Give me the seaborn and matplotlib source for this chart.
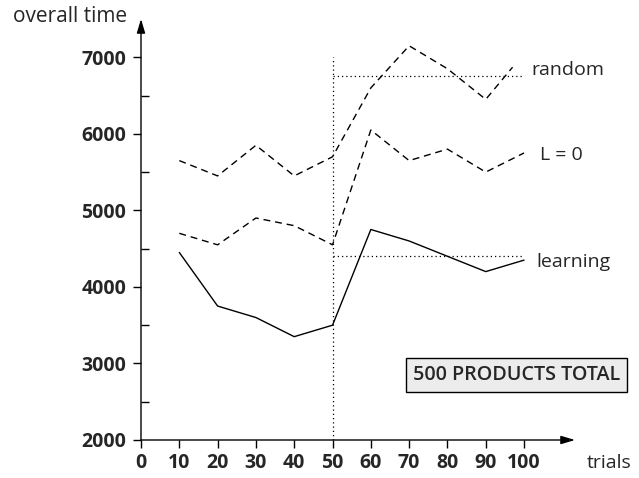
import matplotlib
matplotlib.use("Agg")
import matplotlib.pyplot as plt
import seaborn as sns
import numpy as np

# ---- data ----
trials = [10, 20, 30, 40, 50, 60, 70, 80, 90, 100]
learning = [4450, 3750, 3600, 3350, 3500, 4750, 4600, 4400, 4200, 4350]
l_zero = [4700, 4550, 4900, 4800, 4550, 6050, 5650, 5800, 5500, 5750]
random_trials = [10, 20, 30, 40, 50, 60, 70, 80, 90, 97]
random_vals = [5650, 5450, 5850, 5450, 5700, 6600, 7150, 6850, 6450, 6870]

learning_ref = 4400
random_ref = 6750
split_trial = 50
split_top = 7000
ref_end = 100

xticks = [0, 10, 20, 30, 40, 50, 60, 70, 80, 90, 100]
yticks = [2000, 3000, 4000, 5000, 6000, 7000]
yminor = [2500, 3500, 4500, 5500, 6500]

sns.set_style("white")
plt.rcParams['font.family'] = ['Open Sans', 'DejaVu Sans']

fig = plt.figure(figsize=(6.39, 4.78), dpi=100)
ax = fig.add_axes([141/639, 1 - 440/478, (575 - 141)/639, (440 - 19)/478])
ax.set_xlim(0, 113.3)
ax.set_ylim(2000, 7500)

dash = (0, (5, 3.5))
sns.lineplot(x=trials, y=learning, ax=ax, color='black', linewidth=1.0)
sns.lineplot(x=trials, y=l_zero, ax=ax, color='black', linewidth=1.0, linestyle=dash)
sns.lineplot(x=random_trials, y=random_vals, ax=ax, color='black', linewidth=1.0, linestyle=dash)

dot = (0, (1, 2.4))
ax.hlines(learning_ref, split_trial, ref_end, colors='black', linewidth=0.9, linestyles=dot)
ax.hlines(random_ref, split_trial, ref_end, colors='black', linewidth=0.9, linestyles=dot)
ax.vlines(split_trial, 2000, split_top, colors='black', linewidth=0.9, linestyles=dot)

# axes with arrows
for s in ax.spines.values():
    s.set_visible(False)
arrow = dict(arrowstyle='-|>,head_length=0.6,head_width=0.18', lw=1.0, color='black',
             mutation_scale=14, shrinkA=0, shrinkB=0)
ax.annotate('', xy=(0, 1), xycoords='axes fraction', xytext=(0, 0),
            textcoords='axes fraction', arrowprops=arrow)
ax.annotate('', xy=(1, 0), xycoords='axes fraction', xytext=(0, 0),
            textcoords='axes fraction', arrowprops=arrow)

ax.set_xticks(xticks)
ax.set_xticklabels([str(v) for v in xticks])
ax.set_yticks(yticks)
ax.set_yticklabels([str(v) for v in yticks])
ax.set_yticks(yminor, minor=True)
ax.tick_params(axis='both', which='major', direction='out', length=5.5, width=1.0,
               color='black', labelsize=14, bottom=True, left=True)
ax.tick_params(axis='x', which='major', pad=4)
ax.tick_params(axis='y', which='major', pad=5)
ax.tick_params(axis='y', which='minor', direction='in', length=5.5, width=1.0,
               color='black', left=True)
for lab in ax.get_xticklabels() + ax.get_yticklabels():
    lab.set_fontweight('bold')
ax.set_xlabel('')
ax.set_ylabel('')
ax.grid(False)

# labels
fs = 14
fig.text(13/639, 1 - 16/478, 'overall time', ha='left', va='center', fontsize=15)
fig.text(587/639, 1 - 463/478, 'trials', ha='left', va='center', fontsize=fs)
ax.text(101.8, 6840, 'random', ha='left', va='center', fontsize=fs)
ax.text(104.2, 5725, 'L = 0', ha='left', va='center', fontsize=fs)
ax.text(103.1, 4330, 'learning', ha='left', va='center', fontsize=fs)

fig.text(413/639, 1 - 375/478, '500 PRODUCTS TOTAL', ha='left', va='center',
         fontsize=14.2, fontweight='semibold',
         bbox=dict(boxstyle='square,pad=0.35', facecolor='#ececec', edgecolor='black', linewidth=1.0))

fig.savefig('out.png', dpi=100)
